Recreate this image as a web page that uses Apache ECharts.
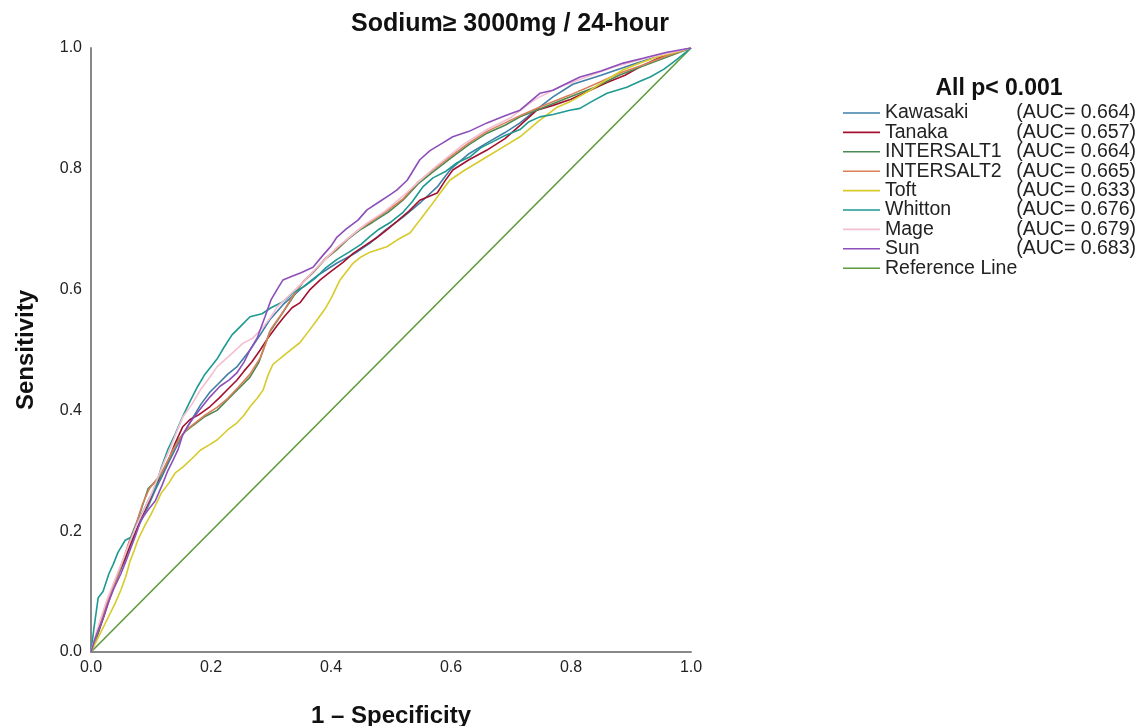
<!DOCTYPE html>
<html>
<head>
<meta charset="utf-8">
<script src="https://cdn.jsdelivr.net/npm/echarts@6/dist/echarts.min.js"></script>
<style>html,body{margin:0;padding:0;background:#fff}#c{width:1141px;height:726px}</style>
</head>
<body>
<div id="c"></div>
<script>
// ---- data (1 - specificity, sensitivity) ----
const xTicks = ['0.0','0.2','0.4','0.6','0.8','1.0'];
const seriesNames = ['Kawasaki','Tanaka','INTERSALT1','INTERSALT2','Toft','Whitton','Mage','Sun','Reference Line'];
const aucValues = ['0.664','0.657','0.664','0.665','0.633','0.676','0.679','0.683',''];

const kawasaki = [[0,0],[0.008,0.025],[0.016,0.05],[0.025,0.075],[0.035,0.1],[0.045,0.125],[0.055,0.15],[0.065,0.18],[0.075,0.2],[0.085,0.22],[0.097,0.245],[0.108,0.27],[0.118,0.29],[0.13,0.315],[0.14,0.335],[0.153,0.36],[0.168,0.385],[0.183,0.41],[0.198,0.43],[0.213,0.445],[0.228,0.46],[0.243,0.472],[0.265,0.5],[0.282,0.525],[0.298,0.55],[0.32,0.575],[0.353,0.604],[0.38,0.625],[0.41,0.644],[0.44,0.66],[0.465,0.677],[0.49,0.698],[0.52,0.72],[0.55,0.745],[0.577,0.77],[0.6,0.8],[0.63,0.825],[0.66,0.843],[0.69,0.86],[0.715,0.876],[0.745,0.9],[0.77,0.919],[0.803,0.94],[0.85,0.955],[0.9,0.972],[0.95,0.988],[1,1]];

const tanaka = [[0,0],[0.008,0.02],[0.015,0.04],[0.025,0.07],[0.035,0.1],[0.045,0.13],[0.055,0.15],[0.065,0.175],[0.075,0.2],[0.085,0.225],[0.097,0.25],[0.11,0.28],[0.12,0.3],[0.13,0.32],[0.14,0.345],[0.153,0.373],[0.165,0.385],[0.18,0.393],[0.198,0.406],[0.213,0.42],[0.228,0.435],[0.243,0.45],[0.255,0.465],[0.268,0.48],[0.282,0.5],[0.295,0.52],[0.31,0.54],[0.322,0.555],[0.335,0.57],[0.348,0.578],[0.365,0.6],[0.382,0.616],[0.4,0.63],[0.42,0.645],[0.437,0.66],[0.455,0.672],[0.475,0.685],[0.493,0.699],[0.51,0.713],[0.53,0.73],[0.548,0.748],[0.577,0.76],[0.59,0.78],[0.603,0.798],[0.63,0.815],[0.66,0.831],[0.69,0.85],[0.715,0.872],[0.743,0.897],[0.77,0.905],[0.8,0.915],[0.832,0.93],[0.86,0.943],[0.89,0.955],[0.915,0.969],[0.95,0.985],[1,1]];

const intersalt1 = [[0,0],[0.008,0.02],[0.016,0.045],[0.025,0.075],[0.035,0.1],[0.045,0.13],[0.055,0.155],[0.065,0.185],[0.075,0.21],[0.085,0.24],[0.095,0.27],[0.105,0.28],[0.115,0.29],[0.125,0.31],[0.135,0.33],[0.145,0.35],[0.155,0.363],[0.17,0.375],[0.19,0.39],[0.21,0.4],[0.228,0.418],[0.245,0.435],[0.265,0.455],[0.28,0.48],[0.298,0.53],[0.315,0.555],[0.335,0.585],[0.353,0.612],[0.37,0.628],[0.39,0.65],[0.41,0.666],[0.43,0.685],[0.45,0.7],[0.47,0.712],[0.495,0.728],[0.52,0.748],[0.545,0.775],[0.57,0.795],[0.603,0.82],[0.63,0.84],[0.66,0.859],[0.69,0.872],[0.715,0.886],[0.75,0.9],[0.798,0.919],[0.84,0.935],[0.88,0.955],[0.92,0.97],[0.96,0.985],[1,1]];

const intersalt2 = [[0,0],[0.008,0.025],[0.016,0.05],[0.026,0.08],[0.036,0.105],[0.046,0.13],[0.056,0.16],[0.066,0.19],[0.076,0.215],[0.086,0.245],[0.097,0.27],[0.107,0.283],[0.117,0.295],[0.127,0.315],[0.137,0.335],[0.147,0.352],[0.157,0.366],[0.172,0.378],[0.19,0.392],[0.21,0.405],[0.228,0.42],[0.245,0.438],[0.265,0.46],[0.282,0.487],[0.3,0.535],[0.318,0.56],[0.337,0.59],[0.355,0.615],[0.373,0.632],[0.392,0.653],[0.41,0.668],[0.43,0.686],[0.45,0.702],[0.472,0.716],[0.497,0.733],[0.52,0.75],[0.545,0.778],[0.572,0.8],[0.603,0.823],[0.63,0.843],[0.66,0.862],[0.69,0.876],[0.715,0.888],[0.75,0.903],[0.798,0.922],[0.84,0.94],[0.88,0.958],[0.92,0.972],[0.96,0.987],[1,1]];

const toft = [[0,0],[0.01,0.02],[0.02,0.04],[0.03,0.06],[0.04,0.08],[0.05,0.103],[0.058,0.125],[0.065,0.15],[0.072,0.168],[0.078,0.185],[0.09,0.21],[0.1,0.228],[0.11,0.248],[0.117,0.263],[0.13,0.28],[0.14,0.296],[0.153,0.306],[0.168,0.32],[0.182,0.334],[0.197,0.343],[0.21,0.351],[0.228,0.368],[0.243,0.379],[0.255,0.392],[0.265,0.406],[0.277,0.42],[0.287,0.434],[0.295,0.458],[0.303,0.476],[0.32,0.49],[0.335,0.502],[0.348,0.512],[0.362,0.53],[0.377,0.55],[0.39,0.568],[0.4,0.585],[0.415,0.616],[0.437,0.644],[0.45,0.654],[0.465,0.662],[0.493,0.671],[0.51,0.682],[0.532,0.694],[0.548,0.715],[0.565,0.737],[0.582,0.76],[0.598,0.781],[0.62,0.796],[0.66,0.82],[0.69,0.838],[0.715,0.853],[0.745,0.878],[0.777,0.902],[0.8,0.912],[0.832,0.93],[0.86,0.948],[0.887,0.964],[0.915,0.975],[0.943,0.985],[0.97,0.992],[1,1]];

const whitton = [[0,0],[0.005,0.04],[0.012,0.09],[0.02,0.1],[0.03,0.13],[0.037,0.145],[0.045,0.165],[0.057,0.185],[0.067,0.19],[0.075,0.21],[0.083,0.225],[0.095,0.25],[0.107,0.272],[0.117,0.305],[0.128,0.335],[0.14,0.36],[0.153,0.39],[0.165,0.415],[0.178,0.44],[0.19,0.46],[0.21,0.485],[0.222,0.505],[0.235,0.525],[0.25,0.54],[0.265,0.555],[0.285,0.56],[0.3,0.57],[0.32,0.58],[0.34,0.597],[0.355,0.605],[0.375,0.62],[0.39,0.635],[0.41,0.65],[0.43,0.662],[0.45,0.675],[0.465,0.688],[0.48,0.7],[0.5,0.712],[0.52,0.728],[0.535,0.745],[0.553,0.77],[0.57,0.785],[0.59,0.795],[0.61,0.81],[0.632,0.82],[0.65,0.835],[0.67,0.845],[0.69,0.855],[0.715,0.865],[0.73,0.878],[0.748,0.886],[0.77,0.89],[0.798,0.897],[0.815,0.9],[0.832,0.91],[0.86,0.925],[0.893,0.935],[0.915,0.945],[0.932,0.952],[0.955,0.965],[0.975,0.98],[1,1]];

const mage = [[0,0],[0.008,0.03],[0.016,0.055],[0.026,0.085],[0.036,0.11],[0.046,0.135],[0.056,0.16],[0.066,0.185],[0.076,0.21],[0.088,0.235],[0.1,0.26],[0.112,0.29],[0.122,0.315],[0.133,0.34],[0.143,0.365],[0.153,0.389],[0.168,0.41],[0.183,0.435],[0.198,0.455],[0.21,0.472],[0.23,0.49],[0.253,0.511],[0.27,0.52],[0.287,0.538],[0.3,0.555],[0.31,0.571],[0.33,0.59],[0.353,0.612],[0.375,0.635],[0.395,0.655],[0.41,0.67],[0.435,0.69],[0.46,0.71],[0.49,0.73],[0.52,0.755],[0.57,0.8],[0.62,0.84],[0.66,0.865],[0.7,0.885],[0.74,0.915],[0.78,0.935],[0.82,0.95],[0.87,0.968],[0.92,0.982],[1,1]];

const sun = [[0,0],[0.006,0.02],[0.012,0.036],[0.02,0.055],[0.028,0.08],[0.038,0.105],[0.05,0.13],[0.058,0.15],[0.067,0.174],[0.075,0.195],[0.083,0.218],[0.095,0.235],[0.107,0.25],[0.118,0.275],[0.128,0.3],[0.137,0.318],[0.145,0.335],[0.153,0.36],[0.165,0.38],[0.18,0.4],[0.198,0.422],[0.215,0.44],[0.23,0.45],[0.243,0.462],[0.255,0.48],[0.265,0.5],[0.277,0.52],[0.29,0.555],[0.3,0.583],[0.31,0.6],[0.32,0.616],[0.335,0.622],[0.35,0.628],[0.37,0.637],[0.385,0.655],[0.4,0.672],[0.41,0.687],[0.425,0.7],[0.445,0.715],[0.46,0.732],[0.48,0.745],[0.5,0.758],[0.51,0.765],[0.527,0.781],[0.548,0.815],[0.565,0.83],[0.585,0.842],[0.603,0.853],[0.63,0.862],[0.66,0.876],[0.69,0.888],[0.715,0.897],[0.748,0.925],[0.77,0.93],[0.79,0.94],[0.815,0.952],[0.85,0.962],[0.887,0.975],[0.92,0.983],[0.96,0.993],[1,1]];

const referenceLine = [[0,0],[1,1]];

const seriesData = [kawasaki, tanaka, intersalt1, intersalt2, toft, whitton, mage, sun, referenceLine];
const colors = ['#3f7fa8','#a3112e','#4a8a52','#d9805a','#d6cb2a','#1d9a92','#f4bfd2','#8d4fba','#5e9a3c'];

const chart = echarts.init(document.getElementById('c'), null, {renderer:'canvas'});
const FONT = 'Liberation Sans, Arial, sans-serif';

chart.setOption({
  backgroundColor: '#fff',
  animation: false,
  title: [
    {text: 'Sodium\u2265 3000mg / 24-hour', left: 505, top: 7, textAlign: 'center',
     textStyle: {fontFamily: FONT, fontSize: 25, fontWeight: 'bold', color: '#111'}},
    {text: 'All p< 0.001', left: 994, top: 72, textAlign: 'center',
     textStyle: {fontFamily: FONT, fontSize: 23, fontWeight: 'bold', color: '#111'}}
  ],
  legend: {
    orient: 'vertical', left: 838, top: 98,
    icon: 'rect', itemWidth: 37, itemHeight: 1.6, itemGap: -0.6,
    data: seriesNames,
    formatter: function (name) {
      const i = seriesNames.indexOf(name);
      if (!aucValues[i]) return '{n|' + name + '}';
      return '{n|' + name + '}{a|(AUC= ' + aucValues[i] + ')}';
    },
    textStyle: {fontFamily: FONT, fontSize: 19.5, color: '#222', lineHeight: 19,
      rich: {n: {fontFamily: FONT, fontSize: 19.5, width: 120, lineHeight: 19, color: '#222'},
             a: {fontFamily: FONT, fontSize: 19.5, width: 131, align: 'right', lineHeight: 19, color: '#222'}}}
  },
  grid: {left: 91, right: 450, top: 48, bottom: 74, containLabel: false, outerBoundsMode: 'none'},
  xAxis: {
    type: 'value', min: 0, max: 1, interval: 0.2,
    name: '1 \u2013 Specificity', nameLocation: 'middle', nameGap: 52,
    nameTextStyle: {fontFamily: FONT, fontSize: 24, fontWeight: 'bold', color: '#111'},
    axisLine: {show: true, lineStyle: {color: '#888', width: 2}},
    axisTick: {show: false}, splitLine: {show: false},
    axisLabel: {fontFamily: FONT, fontSize: 16, color: '#222', margin: 8,
      formatter: function (v) { return xTicks[Math.round(v / 0.2)]; }}
  },
  yAxis: {
    type: 'value', min: 0, max: 1, interval: 0.2,
    name: 'Sensitivity', nameLocation: 'middle', nameGap: 53,
    nameTextStyle: {fontFamily: FONT, fontSize: 24, fontWeight: 'bold', color: '#111'},
    axisLine: {show: true, lineStyle: {color: '#888', width: 2}},
    axisTick: {show: false}, splitLine: {show: false},
    axisLabel: {fontFamily: FONT, fontSize: 16, color: '#222', margin: 9,
      formatter: function (v) { return xTicks[Math.round(v / 0.2)]; }}
  },
  series: seriesData.map(function (d, i) {
    return {
      name: seriesNames[i], type: 'line', data: d, showSymbol: false, symbol: 'none',
      color: colors[i], lineStyle: {width: 1.6, color: colors[i]}, z: i === 8 ? 1 : 2 + i
    };
  })
});
</script>
</body>
</html>
